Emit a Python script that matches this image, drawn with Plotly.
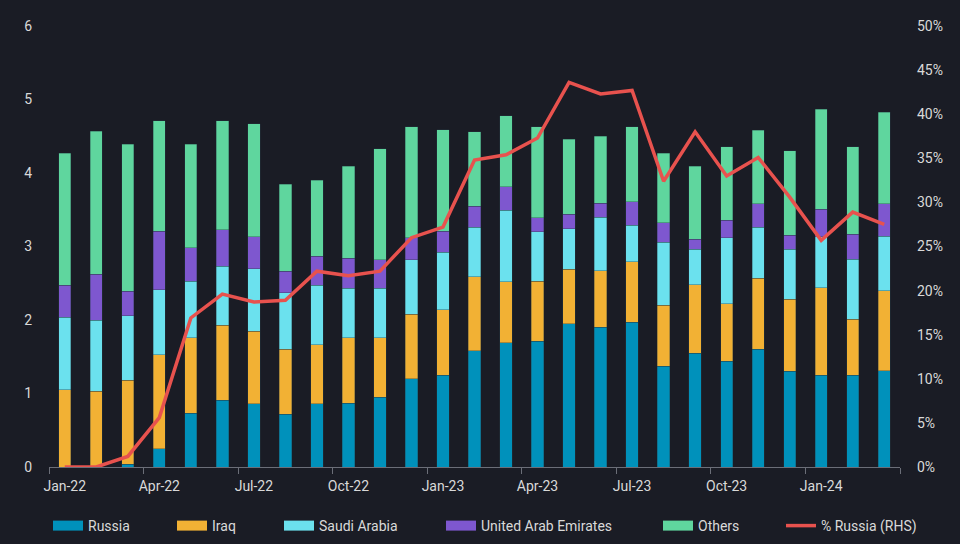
import plotly.graph_objects as go

months = ["Jan-22","Feb-22","Mar-22","Apr-22","May-22","Jun-22","Jul-22","Aug-22","Sep-22",
          "Oct-22","Nov-22","Dec-22","Jan-23","Feb-23","Mar-23","Apr-23","May-23","Jun-23",
          "Jul-23","Aug-23","Sep-23","Oct-23","Nov-23","Dec-23","Jan-24","Feb-24","Mar-24"]

russia = [0.00,0.00,0.04,0.25,0.73,0.91,0.86,0.72,0.86,0.87,0.95,1.20,1.25,1.58,1.69,1.71,
          1.95,1.90,1.97,1.37,1.55,1.44,1.60,1.30,1.25,1.25,1.31]
iraq = [1.05,1.03,1.14,1.28,1.03,1.02,0.99,0.88,0.80,0.89,0.81,0.88,0.89,1.01,0.83,0.82,
        0.74,0.77,0.82,0.83,0.93,0.78,0.97,0.98,1.19,0.76,1.09]
saudi = [0.99,0.97,0.88,0.88,0.77,0.80,0.85,0.77,0.81,0.67,0.67,0.74,0.78,0.67,0.97,0.67,
         0.55,0.73,0.50,0.86,0.48,0.90,0.69,0.68,0.69,0.82,0.74]
uae = [0.43,0.62,0.33,0.80,0.45,0.50,0.43,0.29,0.40,0.41,0.39,0.30,0.29,0.29,0.32,0.19,
       0.20,0.19,0.32,0.26,0.14,0.24,0.32,0.19,0.38,0.34,0.44]
others = [1.80,1.95,2.00,1.50,1.41,1.48,1.54,1.19,1.03,1.25,1.51,1.51,1.38,1.01,0.97,1.24,
          1.02,0.91,1.02,0.95,0.99,1.00,1.00,1.15,1.36,1.19,1.25]
pct_russia = [0.0,0.0,1.2,5.6,16.9,19.6,18.7,18.9,22.2,21.7,22.2,26.0,27.2,34.8,35.4,37.3,
              43.6,42.3,42.7,32.4,38.0,33.0,35.1,30.6,25.7,28.9,27.5]

left_ticks = [0, 1, 2, 3, 4, 5, 6]
right_ticks = [0, 5, 10, 15, 20, 25, 30, 35, 40, 45, 50]

bg = "#1a1c25"
txt = "#d9d9d9"
FONT = "Roboto"
W, H = 960, 544

x = list(range(len(months)))

series = [("Russia", russia, "#0091bb"),
          ("Iraq", iraq, "#f2b134"),
          ("Saudi Arabia", saudi, "#6be1ee"),
          ("United Arab Emirates", uae, "#7e57cf"),
          ("Others", others, "#5fd69e")]
line_name, line_col = "% Russia (RHS)", "#e8524e"

# legend item left edges (pixels) for each entry
legend_px = [54, 178, 285, 447, 664, 787]

fig = go.Figure()
for name, vals, col in series:
    fig.add_trace(go.Bar(x=x, y=vals, name=name, showlegend=False,
                         marker=dict(color=col, line=dict(width=0.6, color="rgba(40,60,70,0.6)")),
                         width=0.39, yaxis="y"))

fig.add_trace(go.Scatter(x=x, y=pct_russia, name=line_name, mode="lines", showlegend=False,
                         line=dict(color=line_col, width=3.5), yaxis="y2"))

# legend entries
legend_layouts = {}
for i, (name, _, col) in enumerate(series + [(line_name, None, line_col)]):
    key = "legend" if i == 0 else f"legend{i+1}"
    lw = 10 if i < len(series) else 3.5
    fig.add_trace(go.Scatter(x=[None], y=[None], name=name, mode="lines",
                             line=dict(color=col, width=lw), legend=key, showlegend=True))
    legend_layouts[key] = dict(xref="container", yref="container",
                               x=(legend_px[i] - 6) / W, xanchor="left",
                               y=(H - 526) / H, yanchor="middle",
                               orientation="h", font=dict(size=14, color=txt, family=FONT),
                               bgcolor="rgba(0,0,0,0)", borderwidth=0)

fig.update_layout(
    barmode="stack",
    width=W, height=H,
    paper_bgcolor=bg, plot_bgcolor=bg,
    margin=dict(l=49, r=60, t=26, b=77, autoexpand=False),
    font=dict(family=FONT, size=14, color=txt),
    xaxis=dict(range=[-0.5, len(months) - 0.5],
               tickmode="array", tickvals=x[::3], ticktext=months[::3],
               ticks="", showgrid=False, zeroline=False,
               showline=True, linecolor="#6b6e78", linewidth=1,
               minor=dict(tickmode="array", tickvals=[i - 0.5 for i in range(0, len(months) + 1, 3)],
                          ticks="outside", ticklen=6, tickcolor="#6b6e78", tickwidth=1, showgrid=False),
               ticklabelstandoff=6,
               tickfont=dict(size=14, color=txt)),
    yaxis=dict(range=[0, 6], tickmode="array", tickvals=left_ticks, showgrid=False, zeroline=False,
               showline=False, ticks="", ticklabelstandoff=16, tickfont=dict(size=14, color=txt)),
    yaxis2=dict(range=[0, 50], tickmode="array", tickvals=right_ticks,
                ticktext=[f"{v}%" for v in right_ticks], overlaying="y", side="right",
                showgrid=False, zeroline=False, showline=False, ticks="", ticklabelstandoff=16,
                tickfont=dict(size=14, color=txt)),
    **legend_layouts,
)

fig.write_html("out.html", config={"displayModeBar": False},
               post_script="document.body.style.margin='0';document.body.style.background='#1a1c25';")
